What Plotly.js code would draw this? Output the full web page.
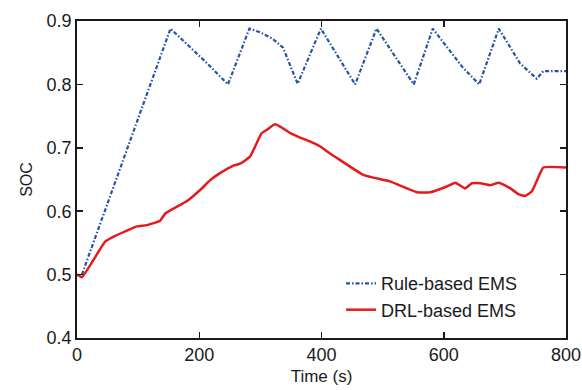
<!DOCTYPE html>
<html>
<head>
<meta charset="utf-8">
<script src="https://cdn.plot.ly/plotly-3.0.1.min.js"></script>
<style>html,body{margin:0;padding:0;background:#fff;}#chart{width:582px;height:390px;}</style>
</head>
<body>
<div id="chart"></div>
<script>
const ruleTime = [8, 153, 212, 247, 282, 300, 320, 337, 361, 399, 455, 490, 551, 582, 630, 658, 690, 725, 752, 763, 800];
const ruleSOC  = [0.500, 0.888, 0.834, 0.800, 0.888, 0.882, 0.872, 0.858, 0.801, 0.888, 0.800, 0.888, 0.800, 0.888, 0.828, 0.800, 0.888, 0.833, 0.809, 0.821, 0.821];

const drlTime = [0, 8, 46, 60, 98, 114, 136, 144, 169, 180, 201, 218, 234, 256, 267, 283, 302, 310, 324, 333, 349, 365, 381, 398, 414, 430, 469, 512, 556, 578, 605, 619, 635, 646, 660, 676, 690, 709, 722, 733, 744, 755, 763, 800];
const drlSOC  = [0.500, 0.496, 0.552, 0.560, 0.576, 0.578, 0.585, 0.596, 0.610, 0.616, 0.633, 0.649, 0.660, 0.672, 0.675, 0.686, 0.723, 0.728, 0.737, 0.733, 0.723, 0.716, 0.710, 0.702, 0.691, 0.681, 0.657, 0.647, 0.630, 0.630, 0.639, 0.645, 0.636, 0.644, 0.644, 0.641, 0.645, 0.636, 0.627, 0.624, 0.631, 0.654, 0.669, 0.669];

const xTicks = [0, 200, 400, 600, 800];
const yTicks = [0.4, 0.5, 0.6, 0.7, 0.8, 0.9];
const yTickText = ['0.4', '0.5', '0.6', '0.7', '0.8', '0.9'];

const traces = [
  {x: ruleTime, y: ruleSOC, type: 'scatter', mode: 'lines', name: 'Rule-based EMS',
   line: {color: '#2454a6', width: 2.2, dash: '4px,2px,1.5px,2px'}},
  {x: drlTime, y: drlSOC, type: 'scatter', mode: 'lines', name: 'DRL-based EMS',
   line: {color: '#e41a1c', width: 2.5, shape: 'spline', smoothing: 0.4}}
];

const fnt = {family: 'Liberation Sans, Arial, sans-serif', size: 18, color: '#1a1a1a'};

const layout = {
  width: 582, height: 390,
  margin: {l: 77, r: 16, t: 21, b: 52},
  paper_bgcolor: '#fff', plot_bgcolor: '#fff',
  font: fnt,
  showlegend: true,
  legend: {x: 0.54, y: 0.23, xanchor: 'left', yanchor: 'top', bgcolor: 'rgba(0,0,0,0)',
           font: {family: fnt.family, size: 18, color: '#1a1a1a'}, tracegroupgap: 0},
  xaxis: {range: [0, 800], tickvals: xTicks, ticks: 'inside', ticklen: 6, tickwidth: 1.5,
          tickcolor: '#1a1a1a', showline: true, linecolor: '#1a1a1a', linewidth: 1.8, mirror: 'ticks',
          showgrid: false, zeroline: false, tickfont: fnt,
          title: {text: 'Time (s)', font: {family: fnt.family, size: 17, color: '#1a1a1a'}, standoff: 6}},
  yaxis: {range: [0.4, 0.9], tickvals: yTicks, ticktext: yTickText, ticks: 'inside', ticklen: 6, tickwidth: 1.5,
          tickcolor: '#1a1a1a', showline: true, linecolor: '#1a1a1a', linewidth: 1.8, mirror: 'ticks',
          showgrid: false, zeroline: false, tickfont: fnt,
          title: {text: 'SOC', font: {family: fnt.family, size: 16, color: '#1a1a1a'}, standoff: 10}}
};

Plotly.newPlot('chart', traces, layout, {displayModeBar: false, staticPlot: true});
</script>
</body>
</html>
